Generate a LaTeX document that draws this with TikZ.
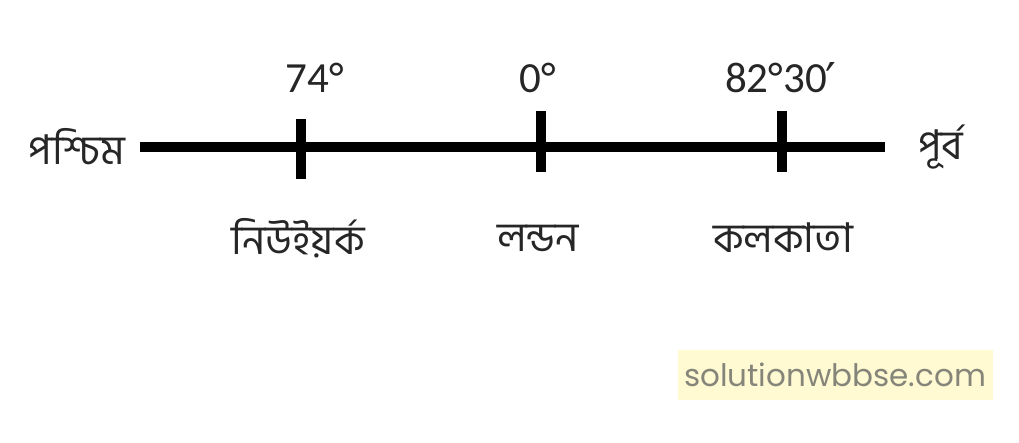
\documentclass[tikz,border=0pt]{standalone}
\usepackage{fontspec}
\setmainfont{Carlito}
\newfontfamily\bengfont[Script=Bengali]{Hind Siliguri}
\newfontfamily\markfont{Poppins}
\newfontfamily\symfont{DejaVu Sans}
\usetikzlibrary{positioning}
\definecolor{markbg}{HTML}{FFFAD2}
\definecolor{markfg}{HTML}{85857A}
\tikzset{
    x=1pt, y=-1pt, % one unit is one pixel of the picture
    }

\begin{document}
\begin{tikzpicture}[
axisline/.style={line width=10pt, black},
tickline/.style={line width=10pt, black},
degnode/.style={font=\fontsize{43}{43}\selectfont, text=black!85, inner sep=0pt, anchor=base},
placenode/.style={font=\bengfont\fontsize{41}{41}\selectfont, text=black!85, inner sep=0pt},
marknode/.style={font=\markfont\fontsize{31}{31}\selectfont, text=markfg, fill=markbg, minimum width=315pt, minimum height=50pt, inner sep=0pt},
]
\useasboundingbox (0,0) rectangle (1019,443);

% the axis
\coordinate (west) at (140,147);
\coordinate (east) at (885,147);
\draw[axisline] (west) -- (east);

% ticks
\coordinate (nytop) at (301,119);
\coordinate (nybot) at (301,179);
\coordinate (lotop) at (541,111);
\coordinate (lobot) at (541,172);
\coordinate (kotop) at (782,111);
\coordinate (kobot) at (782,172);
\draw[tickline] (nytop) -- (nybot);
\draw[tickline] (lotop) -- (lobot);
\draw[tickline] (kotop) -- (kobot);

% longitudes
\node[degnode] (nydeg) at (315,93) {74°};
\node[degnode] (lodeg) at (538,93) {0°};
\node[degnode] (kodeg) at (781,93) {82°30\kern-1pt\raisebox{-5pt}{\symfont\fontsize{48}{48}\selectfont ′}};

% places
\node[placenode] (nyname) at (298,238) {নিউইয়র্ক};
\node[placenode] (loname) at (538,238) {লন্ডন};
\node[placenode] (koname) at (783,238) {কলকাতা};

% directions
\node[placenode, left=15pt of west] (westname) {পশ্চিম};
\node[placenode, right=33pt of east] (eastname) {পূর্ব};

\node[marknode] (mark) at (835,375) {solutionwbbse.com};

\end{tikzpicture}
\end{document}
